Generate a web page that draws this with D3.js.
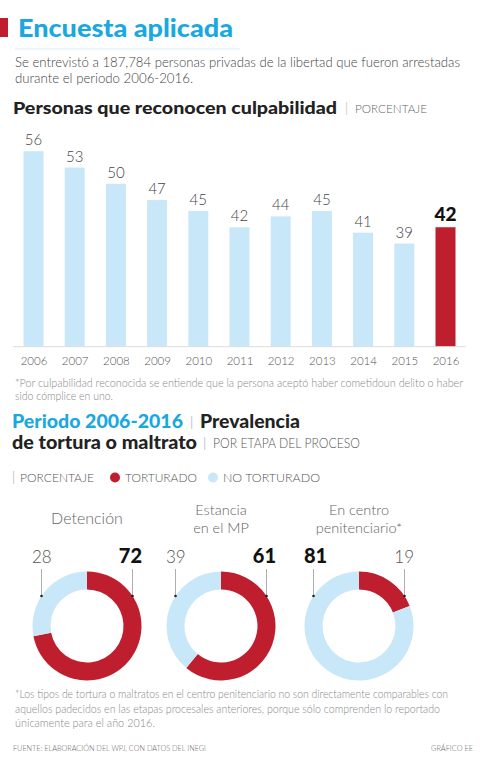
<!DOCTYPE html>
<html>
<head>
<meta charset="utf-8">
<script src="https://cdn.jsdelivr.net/npm/d3@7"></script>
<style>
  body { margin: 0; background: #fff; }
  svg { display: block; font-family: 'Lato', 'DejaVu Sans', sans-serif; }
</style>
</head>
<body>
<div id="chart"></div>
<script>
// data
const years = ['2006','2007','2008','2009','2010','2011','2012','2013','2014','2015','2016'];
const culpabilidad = [56, 53, 50, 47, 45, 42, 44, 45, 41, 39, 42];
const etapas = [['Detención'], ['Estancia', 'en el MP'], ['En centro', 'penitenciario*']];
const torturado = [72, 61, 19];
const noTorturado = [28, 39, 81];

const w = 486;
const h = 768;
const red = '#be1e2d';
const light = '#c8e7f8';
const cyan = '#1aa8e0';

const svg = d3.select('#chart')
    .append('svg')
    .attr('width', w)
    .attr('height', h);

// text helper, width = target width in px
function txt(x, y, s, size, weight, color, width, anchor) {
    const t = svg.append('text')
        .attr('x', x)
        .attr('y', y)
        .attr('font-size', size)
        .attr('font-weight', weight)
        .attr('fill', color)
        .attr('text-anchor', anchor || 'start')
        .text(s);
    if (width) t.attr('textLength', width).attr('lengthAdjust', 'spacingAndGlyphs');
    return t;
}

// header
svg.append('rect').attr('x', 0).attr('y', 18).attr('width', 8).attr('height', 19).attr('fill', red);
txt(18, 37, 'Encuesta aplicada', 25, 900, cyan, 215);
svg.append('line').attr('x1', 15).attr('x2', 240).attr('y1', 49).attr('y2', 49)
    .attr('stroke', '#d9eef8').attr('stroke-width', 1);
txt(15, 67, 'Se entrevistó a 187,784 personas privadas de la libertad que fueron arrestadas', 13, 300, '#444', 445);
txt(15, 83, 'durante el periodo 2006-2016.', 13, 300, '#444', 178);

txt(13, 114, 'Personas que reconocen culpabilidad', 17.5, 900, '#222', 324);
txt(345, 113, '|', 13, 300, '#aaa');
txt(355, 113, 'PORCENTAJE', 12.5, 300, '#666', 72);

// bar chart
const xScale = d3.scalePoint()
    .domain(years)
    .range([33.5, 445.5]);

const yScale = d3.scaleLinear()
    .domain([20, 60])
    .range([346.7, 129.5]);

const barW = 20;
const last = years.length - 1;

svg.selectAll('rect.bar')
    .data(culpabilidad)
    .enter()
    .append('rect')
    .attr('class', 'bar')
    .attr('x', (d, i) => xScale(years[i]) - barW / 2)
    .attr('y', d => yScale(d))
    .attr('width', barW)
    .attr('height', d => yScale(20) - yScale(d))
    .attr('fill', (d, i) => i === last ? red : light);

svg.selectAll('text.val')
    .data(culpabilidad)
    .enter()
    .append('text')
    .attr('class', 'val')
    .attr('x', (d, i) => xScale(years[i]))
    .attr('y', d => yScale(d) - 6)
    .attr('text-anchor', 'middle')
    .attr('font-size', (d, i) => i === last ? 19 : 15)
    .attr('font-weight', (d, i) => i === last ? 900 : 300)
    .attr('fill', (d, i) => i === last ? '#111' : '#444')
    .text(d => d);

svg.append('line').attr('x1', 13).attr('x2', 466)
    .attr('y1', yScale(20)).attr('y2', yScale(20))
    .attr('stroke', '#ddd').attr('stroke-width', 1);

const xAxis = d3.axisBottom(xScale).tickSize(0).tickPadding(10);
const gx = svg.append('g')
    .attr('transform', 'translate(0,' + yScale(20) + ')')
    .call(xAxis);
gx.select('.domain').remove();
gx.selectAll('text')
    .attr('font-size', 11.5)
    .attr('font-weight', 300)
    .attr('fill', '#555')
    .attr('font-family', 'Lato, sans-serif');

txt(15, 387, '*Por culpabilidad reconocida se entiende que la persona aceptó haber cometidoun delito o haber', 11, 300, '#888', 448);
txt(15, 400, 'sido cómplice en uno.', 11, 300, '#888', 98);

// second section
txt(12, 428, 'Periodo 2006-2016', 18, 900, cyan, 171);
txt(190, 427, '|', 14, 300, '#999');
txt(200, 428, 'Prevalencia', 18, 900, '#222', 100);
txt(12, 449, 'de tortura o maltrato', 18, 900, '#222', 185);
txt(203, 448, '|', 14, 300, '#999');
txt(213, 448, 'POR ETAPA DEL PROCESO', 13, 300, '#555', 147);

txt(12, 482, '|', 13, 300, '#999');
txt(20, 482, 'PORCENTAJE', 12.5, 300, '#555', 74);
svg.append('circle').attr('cx', 115).attr('cy', 477.5).attr('r', 5).attr('fill', red);
txt(125, 482, 'TORTURADO', 12.5, 300, '#555', 72);
svg.append('circle').attr('cx', 213).attr('cy', 477.5).attr('r', 5).attr('fill', light);
txt(223, 482, 'NO TORTURADO', 12.5, 300, '#555', 97);

// donuts
const centers = [87, 221, 359];
const cy = 626;
const rOut = 54.5;
const rIn = 36.5;

const pie = d3.pie().sort(null).startAngle(0).endAngle(2 * Math.PI);
const arc = d3.arc().innerRadius(rIn).outerRadius(rOut);

etapas.forEach((lines, k) => {
    const cx = centers[k];
    const g = svg.append('g').attr('transform', 'translate(' + cx + ',' + cy + ')');
    g.selectAll('path')
        .data(pie([torturado[k], noTorturado[k]]))
        .enter()
        .append('path')
        .attr('d', arc)
        .attr('fill', (d, i) => i === 0 ? red : light);

    // title
    const base = lines.length === 1 ? 524 : 515;
    lines.forEach((l, j) => {
        txt(cx, base + j * 17.5, l, lines.length === 1 ? 16 : 14.5, 300, '#666', null, 'middle');
    });

    // leaders and labels: left = no torturado, right = torturado
    const dx = 45.5;
    const dy = Math.sqrt(rOut * rOut - dx * dx);
    [[-1, noTorturado[k]], [1, torturado[k]]].forEach(([side, v]) => {
        const lx = cx + side * dx;
        svg.append('line')
            .attr('x1', lx).attr('x2', lx)
            .attr('y1', 569).attr('y2', cy - dy)
            .attr('stroke', '#999').attr('stroke-width', 0.8);
        svg.append('circle')
            .attr('cx', lx).attr('cy', cy - dy).attr('r', 1.3).attr('fill', '#222');
        const big = v > 50;
        txt(cx + side * 55, 563, v, big ? 20 : 17, big ? 900 : 300, big ? '#111' : '#555', null,
            side < 0 ? 'start' : 'end');
    });
});

txt(15, 698, '*Los tipos de tortura o maltratos en el centro penitenciario no son directamente comparables con', 11, 300, '#888', 433);
txt(15, 713, 'aquellos padecidos en las etapas procesales anteriores, porque sólo comprenden lo reportado', 11, 300, '#888', 425);
txt(15, 727, 'únicamente para el año 2016.', 11, 300, '#888', 140);

txt(13, 750.5, 'FUENTE: ELABORACIÓN DEL WPJ, CON DATOS DEL INEGI', 8, 300, '#666', 193);
txt(473, 750.5, 'GRÁFICO EE', 8, 300, '#666', 42, 'end');
</script>
</body>
</html>
